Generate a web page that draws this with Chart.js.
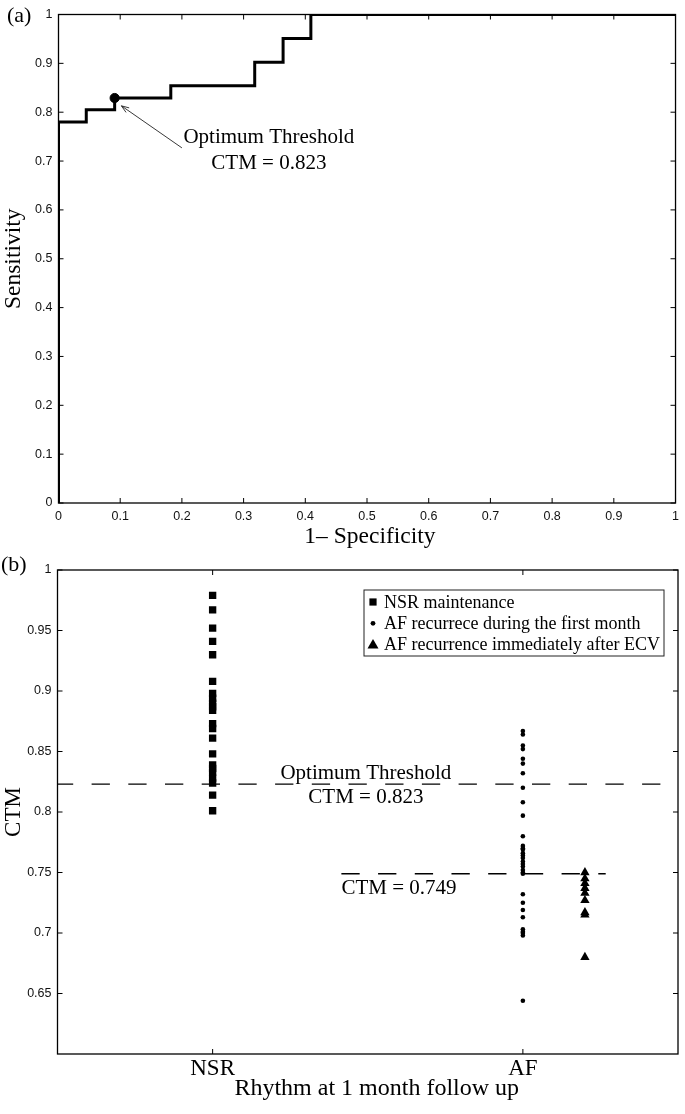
<!DOCTYPE html>
<html>
<head>
<meta charset="utf-8">
<script src="https://cdn.jsdelivr.net/npm/chart.js@4"></script>
<style>
  body { margin: 0; background: #fff; width: 685px; height: 1114px; position: relative; overflow: hidden; }
  .panel { position: absolute; left: 0; width: 685px; }
  #rocWrap { top: 0; height: 560px; }
  #ctmWrap { top: 550px; height: 564px; }
  .tag { position: absolute; font: 22px "Liberation Serif", "Times New Roman", serif; color: #000; line-height: 1; }
</style>
</head>
<body>
<div class="panel" id="rocWrap"><canvas id="rocChart"></canvas></div>
<div class="panel" id="ctmWrap"><canvas id="ctmChart"></canvas></div>
<div class="tag" style="left:7px;top:4px">(a)</div>
<div class="tag" style="left:1px;top:553px">(b)</div>
<script>
// -------- DATA: ROC (a) --------
const rocFpr  = [0, 0,     0.045, 0.091, 0.182, 0.318, 0.364, 0.409, 1];
const rocSens = [0, 0.780, 0.805, 0.829, 0.854, 0.902, 0.951, 1,     1];
const optFpr = [0.091];
const optSens = [0.829];
const rocTicks = [0, 0.1, 0.2, 0.3, 0.4, 0.5, 0.6, 0.7, 0.8, 0.9, 1];

// -------- DATA: CTM por grupo (b) --------
const categories = ["NSR", "AF"];
const nsrCtm = [0.979, 0.967, 0.952, 0.941, 0.930, 0.908, 0.898, 0.894, 0.890, 0.887, 0.884,
                0.873, 0.869, 0.861, 0.848, 0.839, 0.836, 0.833, 0.828, 0.824, 0.814, 0.801];
const afMonthCtm = [0.867, 0.864, 0.855, 0.852, 0.844, 0.840, 0.832, 0.820, 0.808, 0.797,
                    0.780, 0.772, 0.770, 0.769, 0.766, 0.764, 0.762, 0.759, 0.757, 0.755, 0.752, 0.750, 0.749,
                    0.732, 0.725, 0.719, 0.713, 0.703, 0.701, 0.700, 0.698, 0.644];
const afEcvCtm = [0.750, 0.745, 0.741, 0.737, 0.733, 0.727, 0.717, 0.715, 0.680];
const ctmTicks = [0.65, 0.7, 0.75, 0.8, 0.85, 0.9, 0.95, 1];
const thresholds = [0.823, 0.749];
const legendLabels = ["NSR maintenance", "AF recurrece during the first month", "AF recurrence immediately after ECV"];

// -------- HELPERS --------
const SERIF = '"Liberation Serif", "Times New Roman", serif';
const SANS = '"Liberation Sans", Arial, sans-serif';

function fixSize(px) {
    return s => { if (s.isHorizontal()) s.height = px; else s.width = px; };
}

function fmt(v) {
    return String(Number(v.toFixed(2)));
}

// caja + ticks hacia adentro (estilo matlab)
const frame = {
    id: "frame",
    afterDraw(chart) {
        const { ctx, chartArea: a, scales } = chart;
        ctx.save();
        ctx.strokeStyle = "#000";
        ctx.lineWidth = 1.3;
        ctx.strokeRect(a.left, a.top, a.right - a.left, a.bottom - a.top);
        ctx.lineWidth = 1;
        ctx.beginPath();
        scales.x.ticks.forEach(t => {
            const x = scales.x.getPixelForValue(t.value);
            ctx.moveTo(x, a.bottom); ctx.lineTo(x, a.bottom - 5);
            ctx.moveTo(x, a.top); ctx.lineTo(x, a.top + 5);
        });
        scales.y.ticks.forEach(t => {
            const y = scales.y.getPixelForValue(t.value);
            ctx.moveTo(a.left, y); ctx.lineTo(a.left + 5, y);
            ctx.moveTo(a.right, y); ctx.lineTo(a.right - 5, y);
        });
        ctx.stroke();
        ctx.restore();
    }
};

function axisX(min, max, ticks, extra) {
    return Object.assign({
        type: "linear", min, max,
        afterBuildTicks: s => { s.ticks = ticks.map(v => ({ value: v })); },
        grid: { display: false, drawTicks: false },
        border: { display: false },
        ticks: { color: "#111", font: { family: SANS, size: 12.5 }, padding: 6, maxRotation: 0, autoSkip: false, callback: fmt }
    }, extra);
}

// -------- GRAFICO (a) --------
const rocNotes = {
    id: "rocNotes",
    afterDraw(chart) {
        const { ctx, scales: { x, y } } = chart;
        ctx.save();
        ctx.fillStyle = "#000";
        ctx.font = "21px " + SERIF;
        ctx.textAlign = "center";
        ctx.textBaseline = "middle";
        ctx.fillText("Optimum Threshold", x.getPixelForValue(0.341), y.getPixelForValue(0.749));
        ctx.fillText("CTM = " + thresholds[0], x.getPixelForValue(0.341), y.getPixelForValue(0.695));
        // flecha
        const x0 = x.getPixelForValue(0.2), y0 = y.getPixelForValue(0.727);
        const x1 = x.getPixelForValue(0.102), y1 = y.getPixelForValue(0.813);
        const ang = Math.atan2(y1 - y0, x1 - x0);
        ctx.strokeStyle = "#222";
        ctx.lineWidth = 0.9;
        ctx.beginPath();
        ctx.moveTo(x0, y0); ctx.lineTo(x1, y1);
        ctx.moveTo(x1 - 8 * Math.cos(ang - 0.35), y1 - 8 * Math.sin(ang - 0.35));
        ctx.lineTo(x1, y1);
        ctx.lineTo(x1 - 8 * Math.cos(ang + 0.35), y1 - 8 * Math.sin(ang + 0.35));
        ctx.stroke();
        ctx.restore();
    }
};

new Chart(document.getElementById("rocChart"), {
    type: "scatter",
    data: {
        datasets: [{
            label: "ROC",
            data: rocFpr.map((v, i) => ({ x: v, y: rocSens[i] })),
            showLine: true,
            stepped: "before",
            borderColor: "#000",
            borderWidth: 3,
            borderJoinStyle: "miter",
            pointRadius: 0,
            fill: false
        }, {
            label: "Optimum",
            data: optFpr.map((v, i) => ({ x: v, y: optSens[i] })),
            pointRadius: 4.6,
            backgroundColor: "#000",
            borderColor: "#000"
        }]
    },
    options: {
        responsive: true,
        maintainAspectRatio: false,
        animation: false,
        events: [],
        layout: { padding: { top: 14.5, right: 7, left: 0, bottom: 0 } },
        plugins: { legend: { display: false }, tooltip: { enabled: false } },
        scales: {
            x: axisX(0, 1, rocTicks, {
                afterFit: fixSize(57),
                title: { display: true, text: " 1\u2013 Specificity", color: "#000", font: { family: SERIF, size: 23.5 }, padding: { top: 0, bottom: 9 } }
            }),
            y: {
                type: "linear", min: 0, max: 1,
                afterBuildTicks: s => { s.ticks = rocTicks.map(v => ({ value: v })); },
                afterFit: fixSize(58.5),
                grid: { display: false, drawTicks: false },
                border: { display: false },
                ticks: { color: "#111", font: { family: SANS, size: 12.5 }, padding: 6, callback: fmt },
                title: { display: true, text: "Sensitivity", color: "#000", font: { family: SERIF, size: 23.5 }, padding: { top: 0, bottom: 0 } }
            }
        }
    },
    plugins: [frame, rocNotes]
});

// -------- GRAFICO (b) --------
const ctmNotes = {
    id: "ctmNotes",
    afterDraw(chart) {
        const { ctx, scales: { x, y } } = chart;
        ctx.save();
        ctx.fillStyle = "#000";
        ctx.font = "21px " + SERIF;
        ctx.textBaseline = "middle";
        ctx.textAlign = "center";
        ctx.fillText("Optimum Threshold", x.getPixelForValue(1.494), y.getPixelForValue(0.832));
        ctx.fillText("CTM = " + thresholds[0], x.getPixelForValue(1.494), y.getPixelForValue(0.8117));
        ctx.textAlign = "left";
        ctx.fillText("CTM = " + thresholds[1], x.getPixelForValue(1.415), y.getPixelForValue(0.7367));

        // leyenda
        const bx = 364, by = 40, bw = 300, bh = 66;
        ctx.fillStyle = "#fff";
        ctx.fillRect(bx, by, bw, bh);
        ctx.strokeStyle = "#222";
        ctx.lineWidth = 1;
        ctx.strokeRect(bx, by, bw, bh);
        ctx.font = "18px " + SERIF;
        ctx.fillStyle = "#000";
        legendLabels.forEach((txt, i) => {
            const cy = by + 12 + i * 21.3;
            const mx = bx + 9;
            const style = chart.data.datasets[i].pointStyle;
            ctx.beginPath();
            if (style === "rect") {
                ctx.rect(mx - 3.6, cy - 3.6, 7.2, 7.2);
            } else if (style === "circle") {
                ctx.arc(mx, cy, 2.4, 0, Math.PI * 2);
            } else {
                ctx.moveTo(mx, cy - 5.5);
                ctx.lineTo(mx + 5.5, cy + 4);
                ctx.lineTo(mx - 5.5, cy + 4);
                ctx.closePath();
            }
            ctx.fill();
            ctx.fillText(txt, bx + 20, cy + 1);
        });
        ctx.restore();
    }
};

const ecvShift = 0.2;

new Chart(document.getElementById("ctmChart"), {
    type: "scatter",
    data: {
        datasets: [{
            label: legendLabels[0],
            data: nsrCtm.map(v => ({ x: 1, y: v })),
            pointStyle: "rect",
            pointRadius: 5.2,
            backgroundColor: "#000",
            borderWidth: 0
        }, {
            label: legendLabels[1],
            data: afMonthCtm.map(v => ({ x: 2, y: v })),
            pointStyle: "circle",
            pointRadius: 2.3,
            backgroundColor: "#000",
            borderWidth: 0
        }, {
            label: legendLabels[2],
            data: afEcvCtm.map(v => ({ x: 2 + ecvShift, y: v })),
            pointStyle: "triangle",
            pointRadius: 5.4,
            backgroundColor: "#000",
            borderWidth: 0
        }, {
            label: "Optimum threshold",
            data: [{ x: 0.5, y: thresholds[0] }, { x: 2.5, y: thresholds[0] }],
            showLine: true,
            borderColor: "#000",
            borderWidth: 1.4,
            borderDash: [18.3, 18.4],
            borderDashOffset: 2.6,
            pointRadius: 0
        }, {
            label: "AF threshold",
            data: [{ x: 1.415, y: thresholds[1] }, { x: 2.267, y: thresholds[1] }],
            showLine: true,
            borderColor: "#000",
            borderWidth: 1.4,
            borderDash: [18.3, 18.4],
            pointRadius: 0
        }]
    },
    options: {
        responsive: true,
        maintainAspectRatio: false,
        animation: false,
        events: [],
        layout: { padding: { top: 20, right: 7, left: 0, bottom: 0 } },
        plugins: { legend: { display: false }, tooltip: { enabled: false } },
        scales: {
            x: {
                type: "linear", min: 0.5, max: 2.5,
                afterBuildTicks: s => { s.ticks = categories.map((c, i) => ({ value: i + 1 })); },
                afterFit: fixSize(60),
                grid: { display: false, drawTicks: false },
                border: { display: false },
                ticks: { color: "#000", font: { family: SERIF, size: 23 }, padding: 1, maxRotation: 0, autoSkip: false,
                         callback: v => categories[v - 1] },
                title: { display: true, text: "   Rhythm at 1 month follow up", color: "#000", font: { family: SERIF, size: 24 }, padding: { top: 0, bottom: 11 } }
            },
            y: {
                type: "linear", min: 0.6, max: 1,
                afterBuildTicks: s => { s.ticks = ctmTicks.map(v => ({ value: v })); },
                afterFit: fixSize(57.5),
                grid: { display: false, drawTicks: false },
                border: { display: false },
                ticks: { color: "#111", font: { family: SANS, size: 12.5 }, padding: 6, callback: fmt },
                title: { display: true, text: "CTM", color: "#000", font: { family: SERIF, size: 23 }, padding: { top: 0, bottom: 0 } }
            }
        }
    },
    plugins: [frame, ctmNotes]
});
</script>
</body>
</html>
